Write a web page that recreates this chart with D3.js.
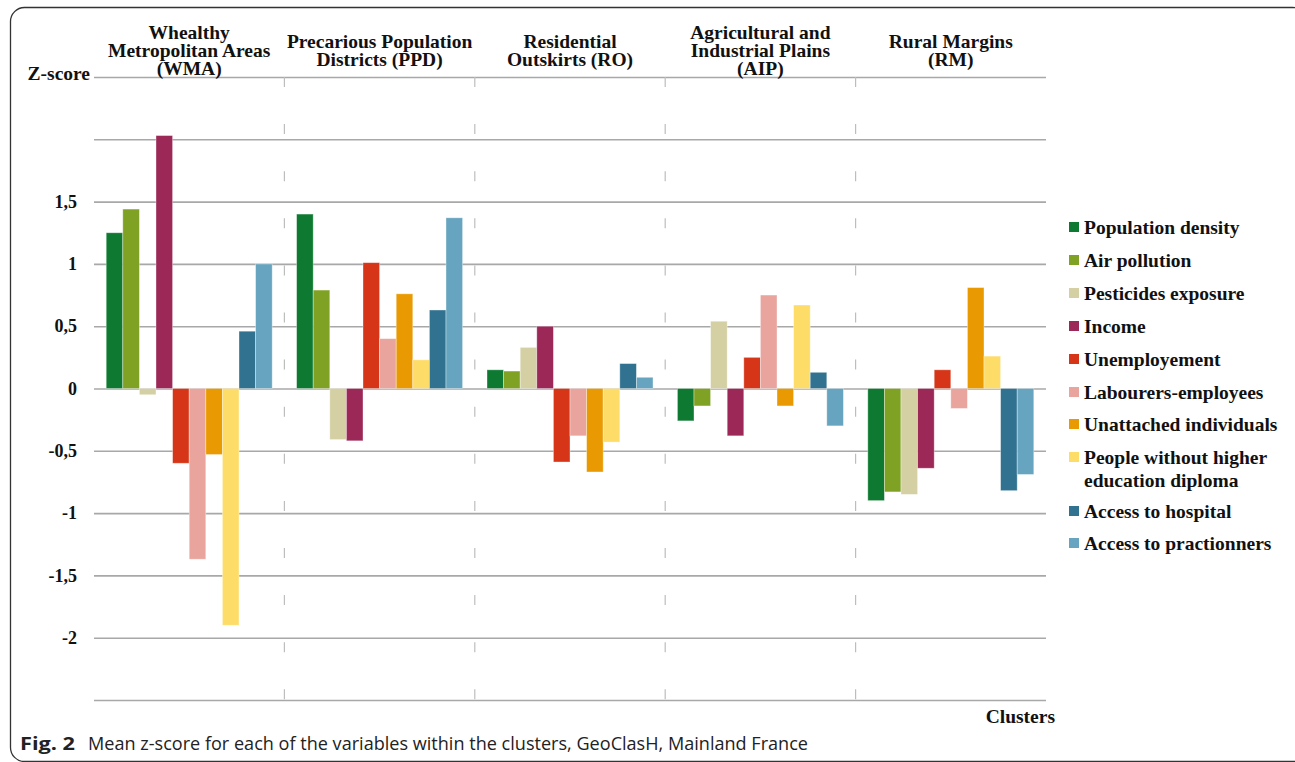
<!DOCTYPE html>
<html>
<head>
<meta charset="utf-8">
<script src="https://cdn.jsdelivr.net/npm/d3@7"></script>
<style>
  body { margin: 0; background: #fff; }
  svg { display: block; }
  .serif { font-family: "Liberation Serif", "Times New Roman", serif; font-weight: bold; fill: #111; }
</style>
</head>
<body>
<svg id="chart" width="1295" height="762"></svg>
<script>
// clusters and variables
var clusters = ["WMA", "PPD", "RO", "AIP", "RM"];
var clusterLabels = [
  ["Whealthy", "Metropolitan Areas", "(WMA)"],
  ["Precarious Population", "Districts (PPD)"],
  ["Residential", "Outskirts (RO)"],
  ["Agricultural and", "Industrial Plains", "(AIP)"],
  ["Rural Margins", "(RM)"]
];
var variables = ["Population density", "Air pollution", "Pesticides exposure", "Income",
  "Unemployement", "Labourers-employees", "Unattached individuals",
  "People without higher education diploma", "Access to hospital", "Access to practionners"];
var legendLines = [["Population density"], ["Air pollution"], ["Pesticides exposure"], ["Income"],
  ["Unemployement"], ["Labourers-employees"], ["Unattached individuals"],
  ["People without higher", "education diploma"], ["Access to hospital"], ["Access to practionners"]];
var colors = ["#0e7a31", "#7fa224", "#d4d0a3", "#9c2857", "#d63617",
  "#e8a49d", "#e99a02", "#fedc68", "#317290", "#67a4bf"];

// mean z-scores, one array per cluster (same order as variables)
var wma = [1.25, 1.44, -0.05, 2.03, -0.60, -1.37, -0.53, -1.90, 0.46, 1.00];
var ppd = [1.40, 0.79, -0.41, -0.42, 1.01, 0.40, 0.76, 0.23, 0.63, 1.37];
var ro  = [0.15, 0.14, 0.33, 0.50, -0.59, -0.38, -0.67, -0.43, 0.20, 0.09];
var aip = [-0.26, -0.14, 0.54, -0.38, 0.25, 0.75, -0.14, 0.67, 0.13, -0.30];
var rm  = [-0.90, -0.83, -0.85, -0.64, 0.15, -0.16, 0.81, 0.26, -0.82, -0.69];
var values = [wma, ppd, ro, aip, rm];

var yTicks = [-2.5, -2, -1.5, -1, -0.5, 0, 0.5, 1, 1.5, 2, 2.5];
var labelledTicks = [-2, -1.5, -1, -0.5, 0, 0.5, 1, 1.5];

var svg = d3.select("#chart");
var plotLeft = 94, plotRight = 1046, plotTop = 77, plotBottom = 700;

var locale = d3.formatLocale({decimal: ",", thousands: " ", grouping: [3], currency: ["", ""], minus: "-"});
var fmt = locale.format("");

var x0 = d3.scaleBand().domain(clusters).range([plotLeft, plotRight]);
var x1 = d3.scaleBand().domain(variables).range([0, x0.bandwidth()]).paddingOuter(0.735);
var y = d3.scaleLinear().domain([-2.5, 2.5]).range([plotBottom, plotTop]);
var color = d3.scaleOrdinal().domain(variables).range(colors);

// frame
svg.append("rect")
  .attr("x", 10.5).attr("y", 7.5)
  .attr("width", 1296).attr("height", 754)
  .attr("rx", 14)
  .attr("fill", "none").attr("stroke", "#333").attr("stroke-width", 1.3);

// gridlines + y labels
var yAxis = svg.append("g")
  .attr("transform", "translate(" + plotLeft + ",0)")
  .call(d3.axisLeft(y).tickValues(yTicks).tickSize(-(plotRight - plotLeft)).tickPadding(17)
    .tickFormat(function(d) { return labelledTicks.indexOf(d) >= 0 ? fmt(d) : ""; }));
yAxis.select(".domain").remove();
yAxis.selectAll(".tick line").attr("stroke", "#a8a8a8").attr("stroke-width", 1.6);
yAxis.selectAll(".tick text").attr("class", "serif").style("font-size", "18px");

// dashed cluster separators
svg.append("g").selectAll("line")
  .data(clusters.slice(1))
  .enter().append("line")
  .attr("x1", function(d) { return x0(d); })
  .attr("x2", function(d) { return x0(d); })
  .attr("y1", plotTop).attr("y2", plotBottom)
  .attr("stroke", "#bdbdbd").attr("stroke-width", 1.2)
  .attr("stroke-dasharray", "10,37.1");

// bars
var groups = svg.append("g").selectAll("g")
  .data(clusters)
  .enter().append("g")
  .attr("transform", function(d) { return "translate(" + x0(d) + ",0)"; });

groups.selectAll("rect")
  .data(function(d, i) { return values[i].map(function(v, j) { return {key: variables[j], value: v}; }); })
  .enter().append("rect")
  .attr("x", function(d) { return x1(d.key); })
  .attr("width", x1.bandwidth())
  .attr("y", function(d) { return y(Math.max(0, d.value)); })
  .attr("height", function(d) { return Math.abs(y(d.value) - y(0)); })
  .attr("fill", function(d) { return color(d.key); })
  .attr("stroke", "#fff").attr("stroke-opacity", 0.45).attr("stroke-width", 0.8);

// cluster headers
svg.append("g").selectAll("text")
  .data(clusters)
  .enter().append("text")
  .attr("class", "serif")
  .style("font-size", "19.5px")
  .attr("text-anchor", "middle")
  .attr("x", function(d) { return x0(d) + x0.bandwidth() / 2; })
  .each(function(d, i) {
    var lines = clusterLabels[i];
    var start = 50 - (lines.length - 1) * 9;
    d3.select(this).selectAll("tspan")
      .data(lines)
      .enter().append("tspan")
      .attr("x", x0(d) + x0.bandwidth() / 2)
      .attr("y", function(l, k) { return start + k * 18; })
      .attr("dy", "0.35em")
      .text(function(l) { return l; });
  });

// axis titles
svg.append("text").attr("class", "serif").style("font-size", "19.5px")
  .attr("x", 90).attr("y", 73).attr("dy", "0.35em").attr("text-anchor", "end")
  .text("Z-score");
svg.append("text").attr("class", "serif").style("font-size", "19.5px")
  .attr("x", 1055).attr("y", 716).attr("dy", "0.35em").attr("text-anchor", "end")
  .text("Clusters");

// legend
var legendY = [227, 260, 293, 326, 359, 392, 424, 457, 511, 543];
var legend = svg.append("g").selectAll("g")
  .data(variables)
  .enter().append("g")
  .attr("transform", function(d, i) { return "translate(1069," + legendY[i] + ")"; });
legend.append("rect")
  .attr("x", 0).attr("y", -5).attr("width", 10).attr("height", 10)
  .attr("fill", function(d) { return color(d); });
legend.append("text")
  .attr("class", "serif").style("font-size", "19.5px")
  .each(function(d, i) {
    d3.select(this).selectAll("tspan")
      .data(legendLines[i])
      .enter().append("tspan")
      .attr("x", 15)
      .attr("y", function(l, k) { return k * 23; })
      .attr("dy", "0.35em")
      .text(function(l) { return l; });
  });

// caption
var cap = svg.append("text")
  .attr("x", 20).attr("y", 744).attr("dy", "0.35em")
  .style("font-family", "'Open Sans', 'Noto Sans', sans-serif")
  .style("font-size", "18px").attr("fill", "#222");
cap.append("tspan").style("font-weight", "bold")
  .attr("textLength", 55).attr("lengthAdjust", "spacingAndGlyphs")
  .text("Fig. 2");
cap.append("tspan").attr("x", 88)
  .attr("textLength", 720).attr("lengthAdjust", "spacingAndGlyphs")
  .text("Mean z-score for each of the variables within the clusters, GeoClasH, Mainland France");
</script>
</body>
</html>
